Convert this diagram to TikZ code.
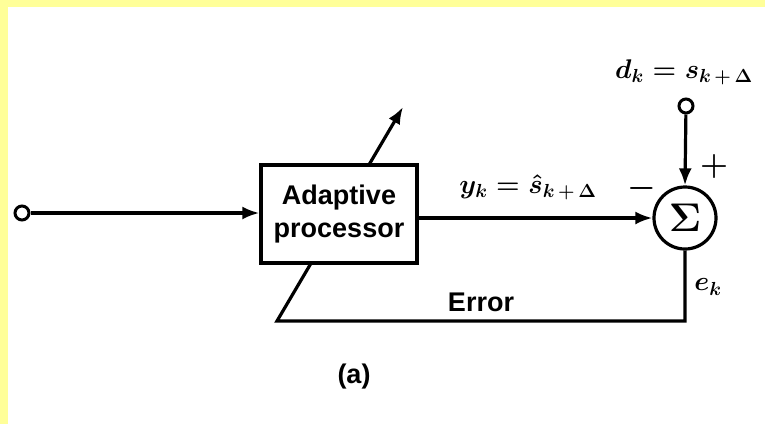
\RequirePackage{fix-cm}
\documentclass[tikz,border=0pt]{standalone}
\usepackage{amsmath}
\usepackage{fontspec}
\setmainfont{Liberation Sans}
\usepackage{tikz}
\usetikzlibrary{arrows.meta,calc}
\definecolor{frameyellow}{RGB}{255,255,153}

\begin{document}
\begin{tikzpicture}[
    x=1pt, y=-1pt,
    wire/.style={line width=3.2pt},
    term/.style={circle, draw, line width=3pt, fill=white, minimum size=14pt, inner sep=0pt},
    lbl/.style={font=\fontsize{27}{33}\selectfont\bfseries},
    mlbl/.style={font=\fontsize{27}{30}\selectfont\boldmath},
    sgn/.style={font=\fontsize{32}{32}\selectfont\boldmath},
    >={Latex[length=17pt,width=13pt]}
]
\useasboundingbox (0,0) rectangle (765,424);
\fill[frameyellow] (0,0) rectangle (765,7);
\fill[frameyellow] (0,0) rectangle (8,424);

\node[term] (src) at (22,213) {};
\node[term] (dsrc) at (686,106) {};
\node[circle, draw, line width=3.2pt, minimum size=62pt, inner sep=0pt,
    font=\fontsize{40}{40}\selectfont\boldmath] (sum) at (685,218) {$\Sigma$};
\coordinate (fb) at (277,321);
\coordinate (tip) at (403,107);

% error path, also the adjust arrow through the box
\draw[wire, ->] (sum.south) |- (fb) -- (tip);

\node[draw, line width=3.2pt, fill=white, minimum width=156pt, minimum height=98pt,
    align=center, lbl] (proc) at (339,214) {Adaptive\\processor};

\draw[wire, ->] (src) -- (proc.west |- src);
\draw[wire, ->] (proc.east |- sum) -- (sum.west);
\draw[wire, ->] (dsrc) -- (sum.north);

\node[mlbl] (dlab) at (684,72) {$d_k = s_{k\,+\,\Delta}$};
\node[mlbl] (ylab) at (528,187) {$y_k = \hat{s}_{k\,+\,\Delta}$};
\node[sgn] (plus) at (714,166) {$+$};
\node[sgn] (minus) at (642,188) {$-$};
\node[mlbl] (elab) at (708,287) {$e_k$};
\node[lbl] (errlab) at (481,302) {Error};
\node[lbl] (cap) at (354,377) {(a)};
\end{tikzpicture}
\end{document}
